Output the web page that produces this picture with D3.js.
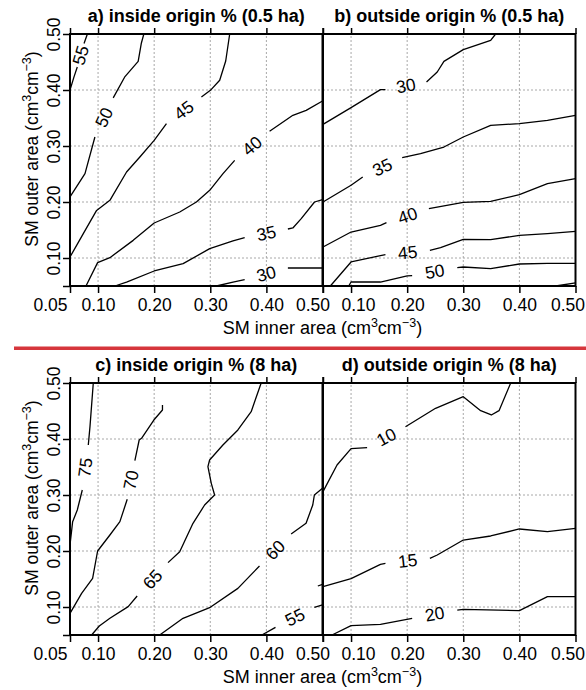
<!DOCTYPE html>
<html><head><meta charset="utf-8">
<script src="https://cdn.jsdelivr.net/npm/d3@7"></script>
<style>
body{margin:0;background:#fff;}
svg{display:block;font-family:"Liberation Sans",Arial,sans-serif;}
</style></head>
<body><svg id="chart" width="586" height="690"></svg>
<script>
// ---- data (x = SM inner area, y = SM outer area) ----
const xTicks = [0.05, 0.10, 0.20, 0.30, 0.40, 0.50];
const yTicks = [0.05, 0.10, 0.20, 0.30, 0.40, 0.50];
const gridVals = [0.10, 0.20, 0.30, 0.40];
const titles = ["a) inside origin % (0.5 ha)", "b) outside origin % (0.5 ha)",
                "c) inside origin % (8 ha)", "d) outside origin % (8 ha)"];

const contoursA = [
 {level:55, pieces:[[[0.05,0.40],[0.057,0.423],[0.063,0.441]], [[0.075,0.483],[0.081,0.50]]]},
 {level:50, pieces:[[[0.05,0.209],[0.0767,0.2506],[0.0944,0.316]], [[0.127,0.386],[0.148,0.424],[0.1715,0.451],[0.177,0.483],[0.1816,0.50]]]},
 {level:45, pieces:[[[0.05,0.1018],[0.0737,0.1435],[0.0974,0.185],[0.1211,0.203],[0.1508,0.2536],[0.1745,0.2804],[0.20,0.31],[0.2219,0.34]], [[0.2842,0.3875],[0.3002,0.3994],[0.3168,0.4173],[0.3275,0.4518],[0.3346,0.50]]]},
 {level:40, pieces:[[[0.0785,0.05],[0.0992,0.0917],[0.1211,0.1006],[0.1626,0.1315],[0.20,0.1625],[0.2456,0.1821],[0.2753,0.20],[0.299,0.2208],[0.3227,0.2506],[0.3435,0.2744]], [[0.4057,0.3262],[0.4472,0.3548],[0.4709,0.3637],[0.50,0.3804]]]},
 {level:35, pieces:[[[0.13,0.05],[0.1508,0.0571],[0.20,0.0768],[0.2516,0.0899],[0.299,0.1167],[0.3405,0.1304],[0.3613,0.1363]], [[0.4383,0.1518],[0.4472,0.1536],[0.4621,0.1702],[0.4858,0.20],[0.50,0.2042]]]},
 {level:30, pieces:[[[0.3109,0.05],[0.3405,0.0571],[0.3613,0.0613]], [[0.4383,0.0821],[0.50,0.0821]]]}
];
const contoursB = [
 {level:30, pieces:[[[0.05,0.3387],[0.10,0.3685],[0.1524,0.4006],[0.1613,0.4006]], [[0.2345,0.4143],[0.2536,0.4321],[0.2655,0.4512],[0.30,0.472],[0.3488,0.4887],[0.3577,0.50]]]},
 {level:35, pieces:[[[0.05,0.20],[0.10,0.2298],[0.1208,0.2446]], [[0.1911,0.2792],[0.2238,0.2863],[0.2655,0.2982],[0.30,0.3161],[0.3488,0.3369],[0.40,0.3399],[0.45,0.3458],[0.50,0.3548]]]},
 {level:40, pieces:[[[0.05,0.1196],[0.10,0.1464],[0.1524,0.1583],[0.1631,0.1631]], [[0.2387,0.1881],[0.30,0.1994],[0.3488,0.2012],[0.40,0.2131],[0.45,0.2327],[0.50,0.2417]]]},
 {level:45, pieces:[[[0.0631,0.05],[0.10,0.0929],[0.1524,0.1042],[0.1613,0.106]], [[0.2405,0.1137],[0.2595,0.1185],[0.30,0.1333],[0.3488,0.1327],[0.40,0.1405],[0.45,0.1435],[0.50,0.1476]]]},
 {level:50, pieces:[[[0.0958,0.05],[0.10,0.0571],[0.1524,0.0571],[0.20,0.0679],[0.2089,0.0685]], [[0.2893,0.0827],[0.30,0.0839],[0.3488,0.081],[0.40,0.0893],[0.45,0.0905],[0.50,0.0905]]]},
 {level:55, pieces:[[[0.4649,0.05],[0.50,0.0554]]]}
];
const contoursC = [
 {level:75, pieces:[[[0.05,0.2107],[0.0547,0.2524],[0.063,0.2732],[0.0719,0.3089]], [[0.0826,0.3893],[0.0856,0.422],[0.0915,0.50]]]},
 {level:70, pieces:[[[0.05,0.0887],[0.0707,0.1244],[0.0903,0.1512],[0.0992,0.20],[0.1211,0.2286],[0.1389,0.2524],[0.152,0.2923]], [[0.1656,0.3613],[0.1733,0.3982],[0.1775,0.4012],[0.1994,0.4339],[0.2148,0.4518],[0.2148,0.4607]]]},
 {level:65, pieces:[[[0.0885,0.05],[0.1022,0.0661],[0.1211,0.0798],[0.1537,0.1006],[0.1697,0.1196]], [[0.2247,0.1792],[0.2455,0.1988],[0.2692,0.2494],[0.2899,0.2821],[0.3077,0.30],[0.3018,0.3208],[0.2958,0.3506],[0.2988,0.3625],[0.3225,0.3893],[0.3492,0.4161],[0.3729,0.4488],[0.3907,0.50]]]},
 {level:60, pieces:[[[0.2099,0.05],[0.2514,0.0798],[0.30,0.0994],[0.3492,0.1333],[0.3877,0.1732]], [[0.4441,0.2304],[0.4707,0.2494],[0.4826,0.2821],[0.4855,0.30],[0.50,0.3119]]]},
 {level:55, pieces:[[[0.392,0.05],[0.4162,0.0637]], [[0.4855,0.0994],[0.50,0.1036]]]},
 {level:50, pieces:[[[0.4917,0.1375],[0.50,0.1405]]]}
];
const contoursD = [
 {level:10, pieces:[[[0.05,0.306],[0.075,0.3536],[0.10,0.3827],[0.1286,0.3845]], [[0.197,0.422],[0.2506,0.4548],[0.30,0.4756],[0.331,0.4506],[0.35,0.4429],[0.3637,0.4506],[0.3845,0.50]]]},
 {level:15, pieces:[[[0.05,0.1363],[0.10,0.1506],[0.1524,0.1762],[0.1613,0.178]], [[0.2405,0.1869],[0.2536,0.1929],[0.30,0.2196],[0.3488,0.2268],[0.40,0.2393],[0.45,0.2345],[0.50,0.2405]]]},
 {level:20, pieces:[[[0.0661,0.05],[0.10,0.0667],[0.1524,0.069],[0.2089,0.0798]], [[0.2893,0.0946],[0.30,0.0958],[0.40,0.0935],[0.45,0.1185],[0.50,0.1185]]]}
];

// ---- layout ----
const svg = d3.select("#chart");
const fmt = d3.format(".2f");
const FS = 17.5;
const panels = [
  {data: contoursA, title: titles[0], left: 70,  top: 34,  yAxis: true,  first: true},
  {data: contoursB, title: titles[1], left: 323, top: 34,  yAxis: false, first: false},
  {data: contoursC, title: titles[2], left: 70,  top: 383, yAxis: true,  first: true},
  {data: contoursD, title: titles[3], left: 323, top: 383, yAxis: false, first: false}
];
const W = 252.5, H = 252;
// horizontal nudges of crowded x tick labels (as in the original figure)
const nudgeFirst = {0.05: -20, 0.50: -10};
const nudgeSecond = {0.10: 7, 0.50: -8};

const line = d3.line();

function supTitle(sel, main) {
  sel.append("tspan").text(main + " (cm");
  sel.append("tspan").attr("dy", -7).attr("font-size", 12.5).text("3");
  sel.append("tspan").attr("dy", 7).text("cm");
  sel.append("tspan").attr("dy", -7).attr("font-size", 12.5).text("\u22123");
  sel.append("tspan").attr("dy", 7).text(")");
}

panels.forEach(p => {
  const x = d3.scaleLinear().domain([0.05, 0.50]).range([p.left, p.left + W]);
  const y = d3.scaleLinear().domain([0.05, 0.50]).range([p.top + H, p.top]);
  const g = svg.append("g");

  // grid
  g.selectAll(".gx").data(gridVals).join("line")
    .attr("x1", d => x(d)).attr("x2", d => x(d)).attr("y1", y(0.05)).attr("y2", y(0.50))
    .attr("stroke", "#a8a8a8").attr("stroke-width", 1).attr("stroke-dasharray", "2,2");
  g.selectAll(".gy").data(gridVals).join("line")
    .attr("y1", d => y(d)).attr("y2", d => y(d)).attr("x1", x(0.05)).attr("x2", x(0.50))
    .attr("stroke", "#a8a8a8").attr("stroke-width", 1).attr("stroke-dasharray", "2,2");

  // contours
  p.data.forEach(c => {
    c.pieces.forEach(piece => {
      g.append("path").attr("d", line(piece.map(d => [x(d[0]), y(d[1])])))
        .attr("fill", "none").attr("stroke", "#000").attr("stroke-width", 1.3)
        .attr("stroke-linejoin", "round");
    });
    for (let i = 0; i < c.pieces.length - 1; i++) {
      const a = c.pieces[i][c.pieces[i].length - 1], b = c.pieces[i + 1][0];
      const ax = x(a[0]), ay = y(a[1]), bx = x(b[0]), by = y(b[1]);
      let ang = Math.atan2(by - ay, bx - ax) * 180 / Math.PI;
      if (ang > 90) ang -= 180; if (ang < -90) ang += 180;
      const mx = (ax + bx) / 2, my = (ay + by) / 2;
      g.append("text").attr("transform", `translate(${mx},${my}) rotate(${ang})`)
        .attr("text-anchor", "middle").attr("dominant-baseline", "central")
        .attr("font-size", FS).attr("fill", "#000").text(c.level);
    }
  });

  // axes
  const nudge = p.first ? nudgeFirst : nudgeSecond;
  const ax = g.append("g").attr("transform", `translate(0,${y(0.05)})`)
    .call(d3.axisBottom(x).tickValues(xTicks).tickSize(7).tickSizeOuter(0).tickPadding(6)
      .tickFormat(d => (d === 0.05 && !p.first) ? "" : fmt(d)));
  ax.select(".domain").remove();
  ax.selectAll("line").attr("stroke", "#000").attr("stroke-width", 1.5);
  ax.selectAll("text").attr("font-size", FS).attr("fill", "#000").attr("font-family", null)
    .attr("x", d => nudge[d] || 0);

  const at = g.append("g").attr("transform", `translate(0,${y(0.50)})`)
    .call(d3.axisTop(x).tickValues(xTicks).tickSize(6).tickSizeOuter(0).tickFormat(""));
  at.select(".domain").remove();
  at.selectAll("line").attr("stroke", "#000").attr("stroke-width", 1.5);

  if (p.yAxis) {
    const ay = g.append("g").attr("transform", `translate(${x(0.05)},0)`)
      .call(d3.axisLeft(y).tickValues(yTicks).tickSize(7).tickSizeOuter(0)
        .tickFormat(d => d === 0.05 ? "" : fmt(d)));
    ay.select(".domain").remove();
    ay.selectAll("line").attr("stroke", "#000").attr("stroke-width", 1.5);
    ay.selectAll("text").attr("font-size", FS).attr("fill", "#000").attr("font-family", null)
      .attr("x", null).attr("dy", null).attr("text-anchor", "middle")
      .attr("transform", "translate(-10,0) rotate(-90)");
    const yt = svg.append("text").attr("font-size", 17.5).attr("text-anchor", "middle")
      .attr("transform", `translate(38,${(y(0.05) + y(0.50)) / 2 - 11}) rotate(-90)`);
    supTitle(yt, "SM outer area");
  }

  // frame
  g.append("rect").attr("x", x(0.05)).attr("y", y(0.50)).attr("width", x(0.50) - x(0.05))
    .attr("height", y(0.05) - y(0.50)).attr("fill", "none").attr("stroke", "#000").attr("stroke-width", 2);

  // title
  svg.append("text").attr("x", (x(0.05) + x(0.50)) / 2).attr("y", p.top - 12)
    .attr("text-anchor", "middle").attr("font-weight", "bold").attr("font-size", 18).text(p.title);

  if (!p.first) {
    const xt = svg.append("text").attr("font-size", 18).attr("text-anchor", "middle")
      .attr("x", 322.5).attr("y", y(0.05) + 48);
    supTitle(xt, "SM inner area");
  }
});

// red separator
svg.append("rect").attr("x", 14).attr("y", 346.5).attr("width", 572).attr("height", 3.5).attr("fill", "#d6363c");
</script></body></html>
